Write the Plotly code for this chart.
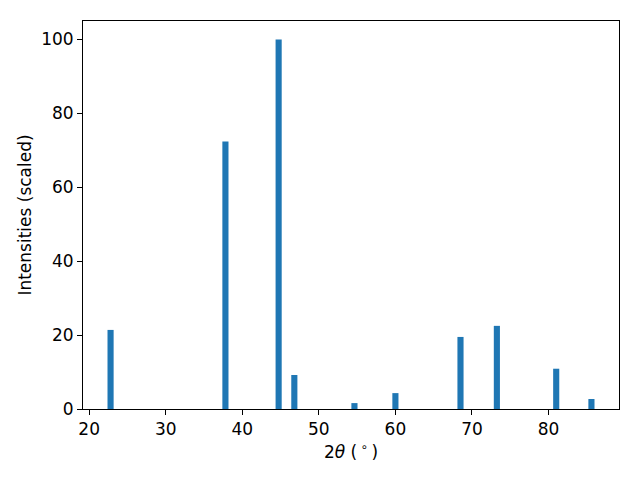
import plotly.graph_objects as go

# peak positions (2theta, degrees) and scaled intensities
two_theta = [22.8, 37.8, 44.75, 46.8, 54.65, 60.0, 68.5, 73.25, 81.0, 85.6]
intensity = [21.4, 72.4, 100.0, 9.2, 1.6, 4.3, 19.5, 22.5, 10.9, 2.7]

fig = go.Figure(
    go.Bar(
        x=two_theta,
        y=intensity,
        width=0.8,
        marker=dict(color="#1f77b4", line=dict(width=0)),
    )
)

axis_style = dict(
    showline=True,
    linecolor="black",
    linewidth=1,
    mirror=True,
    ticks="outside",
    ticklen=5,
    tickwidth=1,
    tickcolor="black",
    showgrid=False,
    zeroline=False,
    tickfont=dict(size=17, color="black"),
)

# page body adds an 8px offset, margins compensate for it
fig.update_layout(
    width=640,
    height=480,
    paper_bgcolor="white",
    plot_bgcolor="white",
    font=dict(family="DejaVu Sans", size=14, color="black"),
    margin=dict(l=75, r=29, t=13, b=79),
    showlegend=False,
    xaxis=dict(
        range=[19.2, 89.2],
        tickvals=[20, 30, 40, 50, 60, 70, 80],
        title=dict(text="2<i>θ</i> (\u2009<sup>∘</sup>\u2009)", standoff=7),
        **axis_style,
    ),
    yaxis=dict(
        range=[0, 105],
        tickvals=[0, 20, 40, 60, 80, 100],
        title=dict(text="Intensities (scaled)", standoff=5),
        **axis_style,
    ),
)

fig.write_html("out.html")
